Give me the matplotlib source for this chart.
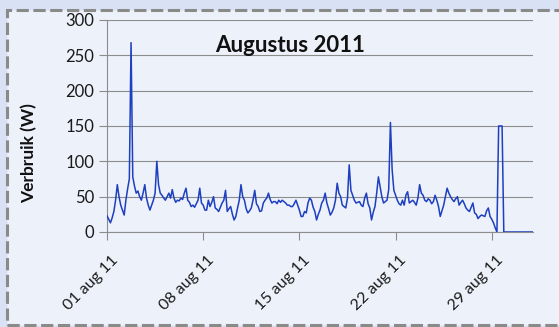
import numpy as np
import pandas as pd
import matplotlib
matplotlib.use("Agg")
import matplotlib.pyplot as plt
import matplotlib.transforms as mtransforms
from matplotlib.patches import Rectangle

# verbruik (W), elke 3 uur
week_1 = [23, 18, 13, 20, 29, 45, 67, 50,     # 01 aug
          38, 31, 24, 45, 61, 75, 268, 78,
          65, 55, 58, 50, 45, 55, 67, 48,
          38, 31, 38, 45, 55, 100, 67, 55,
          52, 48, 45, 50, 55, 48, 60, 48,
          42, 45, 44, 48, 46, 55, 62, 45,
          42, 36, 38, 35, 40, 45, 62, 41]
week_2 = [38, 31, 31, 45, 36, 42, 50, 34,     # 08 aug
          32, 29, 35, 41, 45, 59, 29, 33,
          36, 25, 17, 22, 34, 45, 67, 50,
          45, 33, 27, 30, 34, 45, 59, 40,
          36, 29, 30, 41, 45, 48, 55, 46,
          41, 43, 43, 40, 45, 42, 45, 43,
          41, 38, 38, 36, 36, 40, 45, 38]
week_3 = [31, 22, 22, 29, 27, 41, 48, 45,     # 15 aug
          35, 29, 17, 25, 31, 41, 45, 55,
          41, 33, 24, 28, 34, 45, 69, 55,
          50, 38, 36, 34, 48, 95, 59, 52,
          45, 41, 42, 43, 38, 36, 48, 55,
          40, 34, 17, 28, 36, 55, 78, 64,
          50, 41, 43, 45, 60, 155, 88, 59]
week_4 = [52, 45, 40, 38, 45, 38, 52, 57,     # 22 aug
          41, 43, 45, 42, 38, 48, 67, 55,
          52, 45, 43, 47, 45, 40, 43, 52,
          45, 36, 22, 30, 38, 50, 62, 55,
          50, 46, 43, 47, 50, 38, 42, 45,
          40, 34, 31, 29, 35, 41, 27, 25,
          19, 22, 24, 23, 22, 30, 34, 22]
end_of_month = [18, 13, 6, 0, 150, 150, 150, 0,   # 29 aug
                0, 0, 0, 0, 0, 0, 0, 0,
                0, 0, 0, 0, 0, 0, 0, 0,
                0]

tick_dates = ["2011-08-01", "2011-08-08", "2011-08-15", "2011-08-22", "2011-08-29"]
tick_labels = ["01 aug 11", "08 aug 11", "15 aug 11", "22 aug 11", "29 aug 11"]

verbruik = week_1 + week_2 + week_3 + week_4 + end_of_month
tijd = pd.date_range("2011-08-01", periods=len(verbruik), freq="3h")

plt.rcParams["font.family"] = ["Lato", "DejaVu Sans"]

fig = plt.figure(figsize=(5.59, 3.27), dpi=100, facecolor="#d9e1f4")

# kader van de grafiek
kader = Rectangle((7 / 559, 2 / 327), 1.0, 315 / 327, transform=fig.transFigure,
                  facecolor="#edf1f9", edgecolor="#8a8a8a", linewidth=2.2,
                  linestyle=(0, (4, 1.5)), zorder=-10)
fig.patches.append(kader)

ax = fig.add_axes([107 / 559, 95 / 327, 426 / 559, 212 / 327])
ax.set_facecolor("none")

ax.plot(tijd, verbruik, color="#1d3fc0", linewidth=1.1, zorder=3)

ax.set_xlim(pd.Timestamp("2011-08-01"), pd.Timestamp("2011-09-01"))
ax.set_ylim(0, 300)
ax.set_yticks(np.arange(0, 301, 50))
ax.set_xticks(pd.to_datetime(tick_dates))
ax.set_xticklabels(tick_labels, rotation=45, ha="right", rotation_mode="anchor")

ax.grid(axis="y", color="#8c8c8c", linewidth=0.8)
ax.set_axisbelow(True)
for side in ["top", "right"]:
    ax.spines[side].set_visible(False)
ax.spines["left"].set_color("#8c8c8c")
ax.spines["bottom"].set_color("#8c8c8c")
ax.tick_params(axis="both", colors="#8c8c8c", labelcolor="#1a1a1a",
               length=6, width=0.8)
ax.tick_params(axis="y", labelsize=12, pad=3)
ax.tick_params(axis="x", labelsize=11.5, pad=9)

schuif = mtransforms.ScaledTranslation(4 / 100, 0, fig.dpi_scale_trans)
for lbl in ax.get_xticklabels():
    lbl.set_transform(lbl.get_transform() + schuif)

fig.text(29 / 559, 1 - 153 / 327, "Verbruik (W)", fontsize=12.5, fontweight="bold",
         rotation=90, ha="center", va="center", color="#111111")
fig.text(290 / 559, 1 - 45 / 327, "Augustus 2011", fontsize=16, fontweight="bold",
         ha="center", va="center", color="#111111")

fig.savefig("out.png", dpi=100, facecolor=fig.get_facecolor())
